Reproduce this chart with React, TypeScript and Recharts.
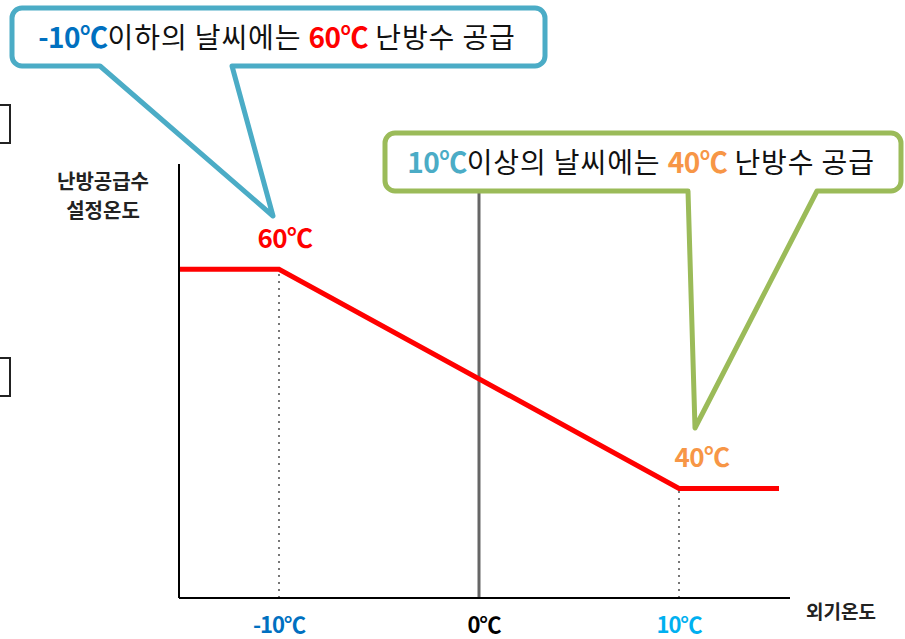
import React from "react";
import { LineChart, Line, XAxis, YAxis, ReferenceLine, ReferenceDot } from "recharts";

// 외기온도(℃) 별 난방공급수 설정온도(℃)
const outdoorTemps = [-15, -10, 10, 15];
const supplyTemps = [60, 60, 40, 40];

// x축 눈금
const xTicks = [-10, 0, 10];
const xTickLabels = ["-10℃", "0℃", "10℃"];
const xTickColors = ["#0070C0", "#000000", "#00B0F0"];

// 꺾이는 지점 값 표시
const markerTemps = [-10, 10];
const markerValues = [60, 40];
const markerColors = ["#FF0000", "#F79646"];

const curve = outdoorTemps.map((t, i) => ({ t, v: supplyTemps[i] }));

const FONT = "'Noto Sans CJK KR', 'Noto Sans', sans-serif";

const renderTick = (props: any) => {
  const idx = xTicks.indexOf(props.payload.value);
  return (
    <text
      x={props.x + (idx === 1 ? 5 : 0)}
      y={598}
      dy={35}
      textAnchor="middle"
      fontFamily={FONT}
      fontWeight={700}
      fontSize={22}
      letterSpacing={-1}
      fill={xTickColors[idx]}
    >
      {xTickLabels[idx]}
    </text>
  );
};

const markerLabel = (i: number) => (props: any) => {
  const { viewBox } = props;
  const cx = viewBox.x + (i === 0 ? 6 : 23);
  const cy = viewBox.y - 21;
  return (
    <text x={cx} y={cy} textAnchor="middle" fontFamily={FONT} fontWeight={700} fontSize={26} letterSpacing={-0.5} fill={markerColors[i]}>
      {`${markerValues[i]}℃`}
    </text>
  );
};

function Callouts() {
  return (
    <svg width={905} height={639} style={{ position: "absolute", left: 0, top: 0, pointerEvents: "none" }}>
      {/* 왼쪽 가장자리 상자 */}
      <rect x={-20} y={105} width={30} height={38} fill="none" stroke="#222" strokeWidth={2} />
      <rect x={-20} y={358} width={30} height={38} fill="none" stroke="#222" strokeWidth={2} />

      {/* 축 제목 */}
      <text x={103} y={189} textAnchor="middle" fontFamily={FONT} fontWeight={700} fontSize={20} fill="#222">난방공급수</text>
      <text x={103} y={218} textAnchor="middle" fontFamily={FONT} fontWeight={700} fontSize={20} fill="#222">설정온도</text>
      <text x={841} y={619} textAnchor="middle" fontFamily={FONT} fontWeight={700} fontSize={19} fill="#222">외기온도</text>

      {/* -10℃ 말풍선 */}
      <path
        d="M 22 8 H 535 A 10 10 0 0 1 545 18 V 56 A 10 10 0 0 1 535 66 H 232 L 273 216 L 100 66 H 22 A 10 10 0 0 1 12 56 V 18 A 10 10 0 0 1 22 8 Z"
        fill="#fff"
        stroke="#4BACC6"
        strokeWidth={5}
        strokeLinejoin="round"
      />
      <text x={277} y={48} textAnchor="middle" fontFamily={FONT} fontSize={28} fill="#111" letterSpacing={0.9}>
        <tspan fontWeight={700} fill="#0070C0" letterSpacing={-0.5}>-10℃</tspan>
        <tspan>이하의 날씨에는 </tspan>
        <tspan fontWeight={700} fill="#FF0000" letterSpacing={-0.5}>60℃</tspan>
        <tspan> 난방수 공급</tspan>
      </text>

      {/* 10℃ 말풍선 */}
      <path
        d="M 395 133 H 891 A 10 10 0 0 1 901 143 V 181 A 10 10 0 0 1 891 191 H 817 L 695 428 L 688 191 H 395 A 10 10 0 0 1 385 181 V 143 A 10 10 0 0 1 395 133 Z"
        fill="#fff"
        stroke="#9BBB59"
        strokeWidth={5}
        strokeLinejoin="round"
      />
      <text x={641} y={173} textAnchor="middle" fontFamily={FONT} fontSize={28} fill="#111" letterSpacing={0.9}>
        <tspan fontWeight={700} fill="#4BACC6" letterSpacing={-0.5}>10℃</tspan>
        <tspan>이상의 날씨에는 </tspan>
        <tspan fontWeight={700} fill="#F79646" letterSpacing={-0.5}>40℃</tspan>
        <tspan> 난방수 공급</tspan>
      </text>
    </svg>
  );
}

export default function App() {
  return (
    <div style={{ position: "absolute", left: 0, top: 0, width: 905, height: 639, background: "#fff", overflow: "hidden" }}>
      <LineChart width={905} height={639} data={curve} margin={{ top: 164, right: 115, left: 178, bottom: 1 }}>
        <XAxis
          type="number"
          dataKey="t"
          domain={[-15, 15.55]}
          ticks={xTicks}
          interval={0}
          height={40}
          tickLine={false}
          axisLine={{ stroke: "#000", strokeWidth: 2 }}
          tick={renderTick}
          allowDataOverflow
        />
        <YAxis
          type="number"
          domain={[30, 69.6]}
          width={1}
          tick={false}
          tickLine={false}
          axisLine={{ stroke: "#000", strokeWidth: 2 }}
          allowDataOverflow
        />
        <ReferenceLine segment={[{ x: 0, y: 30 }, { x: 0, y: 67.5 }]} stroke="#666" strokeWidth={3} />
        {markerTemps.map((t, i) => (
          <ReferenceLine
            key={`drop-${t}`}
            segment={[{ x: t, y: 30 }, { x: t, y: markerValues[i] }]}
            stroke="#777"
            strokeWidth={2}
            strokeDasharray="2 5"
          />
        ))}
        <Line type="linear" dataKey="v" stroke="#FF0000" strokeWidth={5} dot={false} isAnimationActive={false} />
        {markerTemps.map((t, i) => (
          <ReferenceDot key={`mark-${t}`} x={t} y={markerValues[i]} r={0} stroke="none" label={markerLabel(i)} />
        ))}
      </LineChart>
      <Callouts />
    </div>
  );
}
